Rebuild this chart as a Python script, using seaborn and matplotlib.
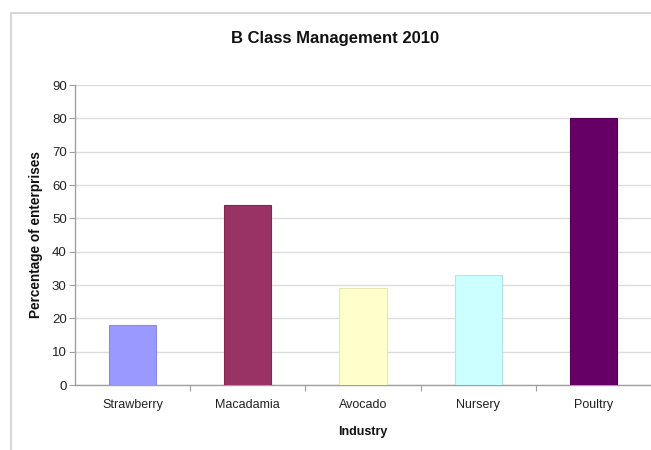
import matplotlib
matplotlib.use("Agg")
import matplotlib.pyplot as plt
from matplotlib.patches import Rectangle
import seaborn as sns
import pandas as pd

industries = ["Strawberry", "Macadamia", "Avocado", "Nursery", "Poultry"]
percentages = [18, 54, 29, 33, 80]
bar_colors = ["#9999FF", "#993366", "#FFFFCC", "#CCFFFF", "#660066"]
edge_colors = ["#8a8ae6", "#80294f", "#e6e6b0", "#b0e6e6", "#550055"]
y_ticks = [0, 10, 20, 30, 40, 50, 60, 70, 80, 90]

sns.set_theme(style="white")
plt.rcParams["font.family"] = ["Liberation Sans", "DejaVu Sans"]

df = pd.DataFrame({"Industry": industries, "Percentage": percentages})

fig = plt.figure(figsize=(6.51, 4.5), dpi=100)
fig.patch.set_facecolor("white")

# chart-area frame
fig.patches.append(Rectangle((11 / 651, -0.05), 1.1, 1 - 13 / 450 + 0.05,
                             transform=fig.transFigure, fill=False,
                             edgecolor="#d0d0d0", linewidth=1.2, zorder=0))

ax = fig.add_axes([75 / 651, 1 - 385 / 450, (651 - 75) / 651, 300 / 450])
ax.set_facecolor("white")

sns.barplot(data=df, x="Industry", y="Percentage", hue="Industry",
            palette=dict(zip(industries, bar_colors)), legend=False,
            width=0.41, ax=ax, saturation=1, zorder=3)
for patch, ec in zip(ax.patches, edge_colors):
    patch.set_edgecolor(ec)
    patch.set_linewidth(0.8)

ax.set_xlim(-0.5, 4.5)
ax.set_ylim(0, 90)
ax.set_yticks(y_ticks)
ax.yaxis.grid(True, color="#dcdcdc", linewidth=1.0, zorder=0)
ax.set_axisbelow(True)

for side in ["top", "right"]:
    ax.spines[side].set_visible(False)
for side in ["left", "bottom"]:
    ax.spines[side].set_color("#a0a0a0")
    ax.spines[side].set_linewidth(1.0)

ax.tick_params(axis="y", which="major", left=True, length=4, width=0.8,
               color="#a0a0a0", labelsize=9.5, pad=2, labelcolor="#222222")
ax.tick_params(axis="x", which="major", bottom=False, labelsize=9, pad=4,
               labelcolor="#222222")
ax.set_xticks([i + 0.5 for i in range(len(industries) - 1)], minor=True)
ax.tick_params(axis="x", which="minor", bottom=True, length=4, width=0.8,
               color="#a0a0a0")

ax.set_xlabel("Industry", fontsize=9, fontweight="bold", labelpad=11,
              color="#111111")
ax.set_ylabel("Percentage of enterprises", fontsize=9.8, fontweight="bold",
              labelpad=6, color="#111111")

fig.text(335 / 651, 1 - 38 / 450, "B Class Management 2010", ha="center",
         va="center", fontsize=12, fontweight="bold", color="#111111")

fig.savefig("out.png", dpi=100, facecolor="white")
